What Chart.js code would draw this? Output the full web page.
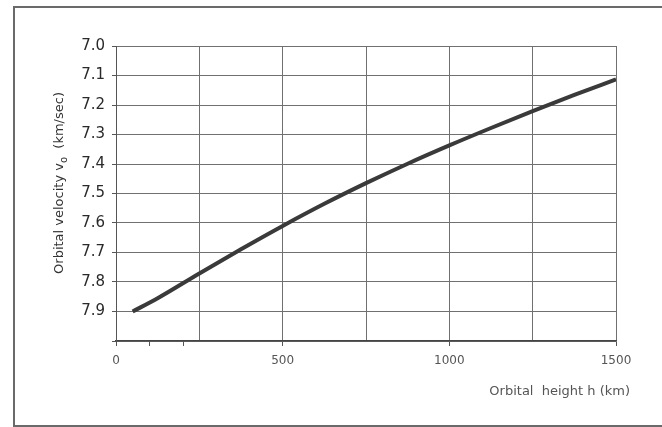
<!DOCTYPE html>
<html>
<head>
<meta charset="utf-8">
<script src="https://cdn.jsdelivr.net/npm/chart.js@4"></script>
<style>
  html, body { margin: 0; padding: 0; background: #fff; }
  #wrap { width: 662px; height: 427px; position: relative; }
</style>
</head>
<body>
<div id="wrap"><canvas id="chart" width="662" height="427"></canvas></div>
<script>
// orbital height (km) and velocity (km/sec)
const heights = [50, 125, 250, 375, 500, 625, 750, 875, 1000, 1125, 1250, 1375, 1500];
const velocities = [7.90, 7.855, 7.771, 7.689, 7.610, 7.535, 7.465, 7.399, 7.337, 7.278, 7.221, 7.166, 7.113];
const xLabels = [0, 500, 1000, 1500];
const minorTicks = [100, 200];

const font = '"DejaVu Sans", sans-serif';

// frame, axis titles and the small ticks near the origin
const extras = {
  id: 'extras',
  beforeDraw(chart) {
    const ctx = chart.ctx;
    ctx.save();
    ctx.fillStyle = '#fff';
    ctx.fillRect(0, 0, chart.width, chart.height);
    ctx.strokeStyle = '#6a6a6a';
    ctx.lineWidth = 2;
    ctx.strokeRect(14, 7, 700, 419);
    ctx.restore();
  },
  afterDraw(chart) {
    const ctx = chart.ctx;
    const x = chart.scales.x;
    const area = chart.chartArea;
    ctx.save();
    ctx.strokeStyle = '#555';
    ctx.lineWidth = 1;
    minorTicks.forEach(v => {
      const px = Math.round(x.getPixelForValue(v)) + 0.5;
      ctx.beginPath();
      ctx.moveTo(px, area.bottom);
      ctx.lineTo(px, area.bottom + 5);
      ctx.stroke();
    });

    // x title
    ctx.fillStyle = '#555';
    ctx.font = '13px ' + font;
    ctx.textAlign = 'right';
    ctx.textBaseline = 'middle';
    ctx.fillText('Orbital  height h (km)', area.right + 14, 392);

    // y title with subscript
    ctx.translate(60, 183);
    ctx.rotate(-Math.PI / 2);
    ctx.fillStyle = '#333';
    const big = '13px ' + font, small = '10px ' + font;
    const p1 = 'Orbital velocity v', p2 = 'o', p3 = '  (km/sec)';
    ctx.font = big;
    const w1 = ctx.measureText(p1).width, w3 = ctx.measureText(p3).width;
    ctx.font = small;
    const w2 = ctx.measureText(p2).width;
    let sx = -(w1 + w2 + w3) / 2;
    ctx.textAlign = 'left';
    ctx.font = big;
    ctx.fillText(p1, sx, 0);
    ctx.font = small;
    ctx.fillText(p2, sx + w1, 4);
    ctx.font = big;
    ctx.fillText(p3, sx + w1 + w2, 0);
    ctx.restore();
  }
};

new Chart(document.getElementById('chart'), {
  type: 'line',
  data: {
    datasets: [{
      data: heights.map((h, i) => ({ x: h, y: velocities[i] })),
      borderColor: '#3a3a3a',
      borderWidth: 4,
      pointRadius: 0,
      cubicInterpolationMode: 'monotone',
      fill: false
    }]
  },
  options: {
    responsive: false,
    animation: false,
    layout: { padding: { left: 0, top: 46, right: 46, bottom: 0 } },
    plugins: { legend: { display: false }, tooltip: { enabled: false } },
    scales: {
      x: {
        type: 'linear',
        min: 0,
        max: 1500,
        afterFit(scale) { scale.height = 86; },
        afterBuildTicks(scale) {
          scale.ticks = [0, 250, 500, 750, 1000, 1250, 1500].map(v => ({ value: v }));
        },
        grid: {
          color: '#707070',
          lineWidth: 1,
          tickLength: 5,
          tickColor: ctx => (xLabels.includes(ctx.tick && ctx.tick.value) ? '#555' : 'rgba(0,0,0,0)')
        },
        border: { color: '#444', width: 1.5 },
        ticks: {
          autoSkip: false,
          maxRotation: 0,
          padding: 8,
          color: '#555',
          font: { family: font, size: 12 },
          callback: v => (xLabels.includes(v) ? String(v) : '')
        }
      },
      y: {
        type: 'linear',
        reverse: true,
        min: 7.0,
        max: 8.0,
        afterFit(scale) { scale.width = 116; },
        grid: { color: '#707070', lineWidth: 1, tickLength: 4, tickColor: '#555' },
        border: { color: '#555', width: 1 },
        ticks: {
          stepSize: 0.1,
          padding: 7,
          color: '#2a2a2a',
          font: { family: font, size: 15 },
          callback: v => (Math.abs(v - 8) < 1e-6 ? '' : v.toFixed(1))
        }
      }
    }
  },
  plugins: [extras]
});
</script>
</body>
</html>
